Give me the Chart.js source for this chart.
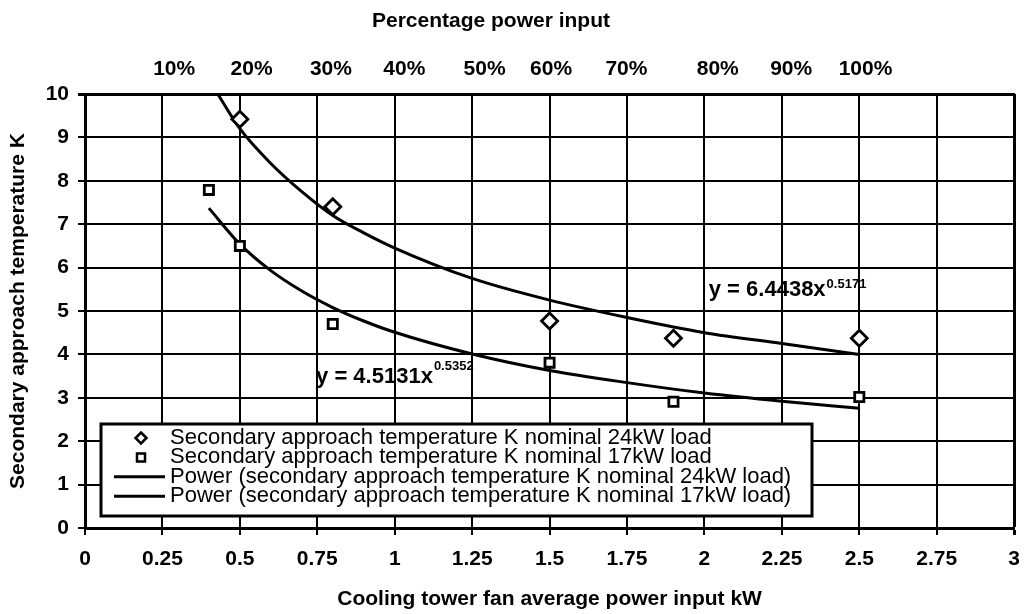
<!DOCTYPE html>
<html>
<head>
<meta charset="utf-8">
<script src="https://cdn.jsdelivr.net/npm/chart.js@4.4.0/dist/chart.umd.min.js"></script>
<style>
  html, body { margin: 0; padding: 0; background: #fff; }
</style>
</head>
<body>
<canvas id="myGraph" width="1032" height="614"></canvas>
<script>
// measured points
let load24X = [0.5, 0.8, 1.5, 1.9, 2.5];
let load24Y = [9.42, 7.40, 4.77, 4.37, 4.37];
let load17X = [0.4, 0.5, 0.8, 1.5, 1.9, 2.5];
let load17Y = [7.79, 6.50, 4.70, 3.81, 2.91, 3.02];

// power trend lines
let trend24X = [0.42, 0.5, 0.6, 0.7, 0.8, 0.9, 1.0, 1.25, 1.5, 1.75, 2.0, 2.25, 2.5];
let trend24Y = [10.1, 9.2, 8.4, 7.75, 7.2, 6.8, 6.45, 5.75, 5.25, 4.85, 4.5, 4.25, 4.0];
let trend17X = [0.4, 0.5, 0.6, 0.7, 0.8, 0.9, 1.0, 1.25, 1.5, 1.75, 2.0, 2.25, 2.5];
let trend17Y = [7.37, 6.54, 5.93, 5.46, 5.08, 4.77, 4.51, 4.01, 3.63, 3.35, 3.11, 2.92, 2.76];

let seriesNames = [
  'Secondary approach temperature K nominal 24kW load',
  'Secondary approach temperature K nominal 17kW load',
  'Power (secondary approach temperature K nominal 24kW load)',
  'Power (secondary approach temperature K nominal 17kW load)'
];

let xTickValues = [0, 0.25, 0.5, 0.75, 1, 1.25, 1.5, 1.75, 2, 2.25, 2.5, 2.75, 3];
let xTickLabels = ['0', '0.25', '0.5', '0.75', '1', '1.25', '1.5', '1.75', '2', '2.25', '2.5', '2.75', '3'];
let yTickValues = [0, 1, 2, 3, 4, 5, 6, 7, 8, 9, 10];
let yTickLabels = ['0', '1', '2', '3', '4', '5', '6', '7', '8', '9', '10'];
// top axis: where each percentage label sits on the kW scale
let topTickValues = [0.288, 0.538, 0.794, 1.031, 1.29, 1.505, 1.748, 2.043, 2.28, 2.52];
let topTickLabels = ['10%', '20%', '30%', '40%', '50%', '60%', '70%', '80%', '90%', '100%'];

let eqTexts = ['y = 6.4438x', 'y = 4.5131x'];
let eqPowers = ['0.5171', '0.5352'];

const FONT = '"Liberation Sans", Arial, sans-serif';
const eqAnchors = [{x: 2.014, y: 5.35, sup: 8}, {x: 0.746, y: 3.35, sup: 13}];

const toPts = (xs, ys) => xs.map((x, i) => ({x: x, y: ys[i]}));

const extras = {
  id: 'extras',
  beforeDraw(chart) {
    const ctx = chart.ctx;
    const sx = chart.scales.x, sy = chart.scales.y;
    ctx.save();
    ctx.fillStyle = '#000';
    ctx.textBaseline = 'alphabetic';
    eqTexts.forEach((t, i) => {
      const a = eqAnchors[i];
      const px = sx.getPixelForValue(a.x);
      const py = sy.getPixelForValue(a.y);
      ctx.font = 'bold 22px ' + FONT;
      ctx.fillText(t, px, py);
      const w = ctx.measureText(t).width;
      ctx.font = 'bold 13px ' + FONT;
      ctx.fillText(eqPowers[i], px + w + 1, py - a.sup);
    });
    // top axis title
    ctx.font = 'bold 21px ' + FONT;
    ctx.textAlign = 'center';
    ctx.textBaseline = 'middle';
    ctx.fillText('Percentage power input', 491, 21);
    ctx.restore();
  },
  afterDatasetsDraw(chart) {
    const ctx = chart.ctx;
    ctx.save();
    ctx.fillStyle = '#fff';
    ctx.fillRect(101, 424, 711, 92);
    ctx.lineWidth = 3;
    ctx.strokeStyle = '#000';
    ctx.strokeRect(101, 424, 711, 92);
    ctx.font = '22px ' + FONT;
    ctx.textBaseline = 'middle';
    chart.data.datasets.forEach((ds, i) => {
      const y = 438 + i * 19.4;
      ctx.strokeStyle = '#000';
      if (ds.showLine) {
        ctx.lineWidth = 3;
        ctx.beginPath();
        ctx.moveTo(114, y);
        ctx.lineTo(165, y);
        ctx.stroke();
      } else {
        ctx.lineWidth = 2.5;
        ctx.fillStyle = '#fff';
        ctx.beginPath();
        if (ds.pointStyle === 'rectRot') {
          const r = 5.5;
          ctx.moveTo(141, y - r);
          ctx.lineTo(141 + r, y);
          ctx.lineTo(141, y + r);
          ctx.lineTo(141 - r, y);
          ctx.closePath();
        } else {
          ctx.rect(137, y - 4, 8, 8);
        }
        ctx.fill();
        ctx.stroke();
      }
      ctx.fillStyle = '#000';
      ctx.fillText(ds.label, 170, y);
    });
    ctx.restore();
  }
};

function totalGraph() {
  const ctx = document.getElementById('myGraph').getContext('2d');
  const tickFont = {family: FONT, size: 21, weight: 'bold', lineHeight: 1.2};
  const data = {
    datasets: [{
      label: seriesNames[0],
      data: toPts(load24X, load24Y),
      pointStyle: 'rectRot',
      pointRadius: 8,
      pointBorderWidth: 2.8,
      pointBackgroundColor: '#fff',
      pointBorderColor: '#000',
      showLine: false,
      order: 0
    },
    {
      label: seriesNames[1],
      data: toPts(load17X, load17Y),
      pointStyle: 'rect',
      pointRadius: 6.5,
      pointBorderWidth: 2.8,
      pointBackgroundColor: '#fff',
      pointBorderColor: '#000',
      showLine: false,
      order: 0
    },
    {
      label: seriesNames[2],
      data: toPts(trend24X, trend24Y),
      showLine: true,
      borderColor: '#000',
      borderWidth: 3,
      pointRadius: 0,
      cubicInterpolationMode: 'monotone',
      fill: false,
      order: 1
    },
    {
      label: seriesNames[3],
      data: toPts(trend17X, trend17Y),
      showLine: true,
      borderColor: '#000',
      borderWidth: 3,
      pointRadius: 0,
      cubicInterpolationMode: 'monotone',
      fill: false,
      order: 1
    }]
  };
  new Chart(ctx, {
    type: 'scatter',
    data: data,
    plugins: [extras],
    options: {
      responsive: false,
      animation: false,
      devicePixelRatio: 1,
      layout: {padding: {left: 0, right: 10, top: 0, bottom: 0}},
      plugins: {legend: {display: false}, tooltip: {enabled: false}},
      scales: {
        x: {
          type: 'linear',
          position: 'bottom',
          min: 0,
          max: 3,
          afterBuildTicks: s => { s.ticks = xTickValues.map(v => ({value: v})); },
          afterFit: s => { s.height = 86; },
          grid: {
            color: '#000',
            lineWidth: c => (c.tick && c.tick.value === 3) ? 3 : 2,
            tickLength: 7
          },
          border: {display: true, color: '#000', width: 3},
          ticks: {
            color: '#000', font: tickFont, padding: 12, maxRotation: 0, autoSkip: false,
            callback: (v, i) => xTickLabels[i]
          },
          title: {
            display: true, text: 'Cooling tower fan average power input kW', color: '#000',
            font: tickFont, padding: {top: 0, bottom: 2}
          }
        },
        x2: {
          type: 'linear',
          position: 'top',
          min: 0,
          max: 3,
          afterBuildTicks: s => { s.ticks = topTickValues.map(v => ({value: v})); },
          afterFit: s => { s.height = 94; },
          grid: {display: false, drawTicks: false},
          border: {display: true, color: '#000', width: 3},
          ticks: {
            color: '#000', font: tickFont, padding: 12, maxRotation: 0, autoSkip: false,
            callback: (v, i) => topTickLabels[i]
          }
        },
        y: {
          type: 'linear',
          min: 0,
          max: 10,
          afterBuildTicks: s => { s.ticks = yTickValues.map(v => ({value: v})); },
          afterFit: s => { s.width = 85; },
          grid: {
            color: '#000',
            lineWidth: c => (c.tick && c.tick.value === 10) ? 3 : 2,
            tickLength: 7
          },
          border: {display: true, color: '#000', width: 3},
          ticks: {
            color: '#000', font: tickFont, padding: 9,
            callback: (v, i) => yTickLabels[i]
          },
          title: {
            display: true, text: 'Secondary approach temperature K', color: '#000',
            font: tickFont, padding: {top: 6, bottom: 0}
          }
        }
      }
    }
  });
}
totalGraph();
</script>
</body>
</html>
